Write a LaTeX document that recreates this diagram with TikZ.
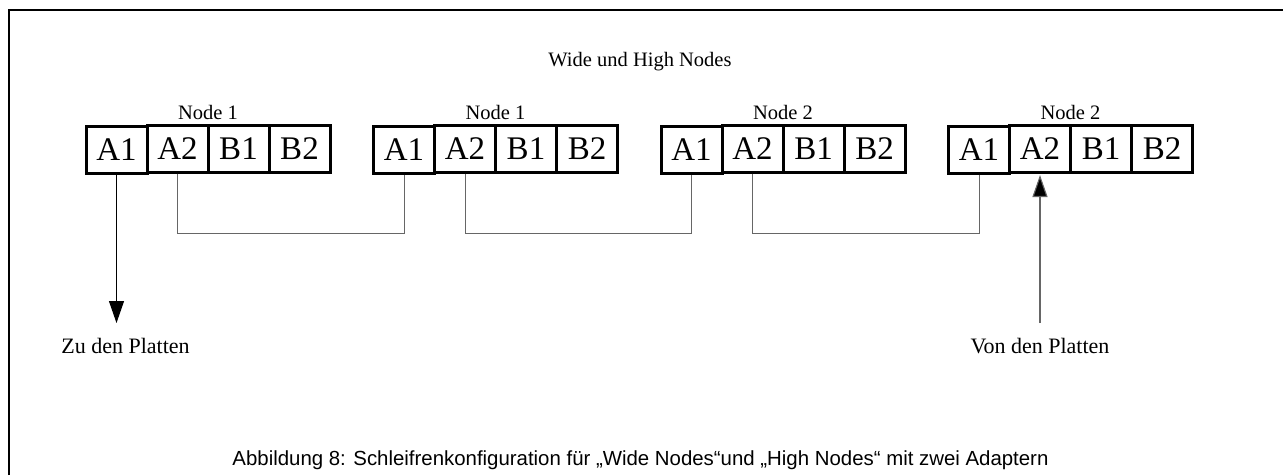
\documentclass[tikz,border=0pt]{standalone}
\usepackage{fontspec}
\setmainfont{Liberation Serif}
\newfontfamily\capfont{Liberation Sans}
\usetikzlibrary{arrows.meta}
\begin{document}
\begin{tikzpicture}[x=1pt,y=-1pt,
  port/.style={draw, line width=3pt, minimum width=61pt, minimum height=47pt,
    inner sep=0pt, font=\fontsize{33}{36}\selectfont},
  grouplabel/.style={anchor=base, inner sep=0pt, font=\fontsize{20.5}{24}\selectfont},
  endlabel/.style={anchor=base, inner sep=0pt, font=\fontsize{22}{26}\selectfont},
  link/.style={draw=black!60, line width=1pt},
  outarrow/.style={draw=black, line width=1.1pt, -{Triangle[length=22pt,width=15pt]}},
  inarrow/.style={draw=black!60, line width=1.1pt, -{Triangle[length=22pt,width=15pt,fill=black]}},
  frameline/.style={draw=black, line width=1.3pt}]

\path[use as bounding box] (0,0) rectangle (1283,475);

% open frame: left and top edge
\coordinate (fbl) at (9,475);
\coordinate (ftl) at (9,10);
\coordinate (ftr) at (1283,10);
\draw[frameline] (fbl) -- (ftl) -- (ftr);

\node[grouplabel] (title) at (640,66) {Wide und High Nodes};

% four adapter groups
\foreach \g/\name [evaluate=\g as \x using 86+287.5*\g] in
    {0/Node 1, 1/Node 1, 2/Node 2, 3/Node 2} {
  \node[port] (g\g a1) at ({\x+30.5},150) {A1};
  \node[port] (g\g a2) at ({\x+91.5},148.5) {A2};
  \node[port] (g\g b1) at ({\x+152.5},148.5) {B1};
  \node[port] (g\g b2) at ({\x+213.5},148.5) {B2};
  \node[grouplabel] (n\g) at ({\x+122},119) {\name};
}

% loop between the adapters
\draw[link] (g0a2.south) -- ++(0,60) -| (g1a1.south);
\draw[link] (g1a2.south) -- ++(0,60) -| (g2a1.south);
\draw[link] (g2a2.south) -- ++(0,60) -| (g3a1.south);

% disk connections
\coordinate (zuend) at (g0a1.south |- 0,323);
\coordinate (vonstart) at (g3a2.south |- 0,323);
\draw[outarrow] (g0a1.south) -- (zuend);
\draw[inarrow, shorten >=1.5pt] (vonstart) -- (g3a2.south);

\node[endlabel] (zu) at (125.5,353) {Zu den Platten};
\node[endlabel] (von) at (g3a2.south |- 0,353) {Von den Platten};

\node[anchor=base, inner sep=0pt, font=\capfont\fontsize{20.4}{24}\selectfont] (cap) at (640.5,465)
  {Abbildung 8: Schleifrenkonfiguration für „Wide Nodes“und „High Nodes“ mit zwei Adaptern};
\end{tikzpicture}
\end{document}
